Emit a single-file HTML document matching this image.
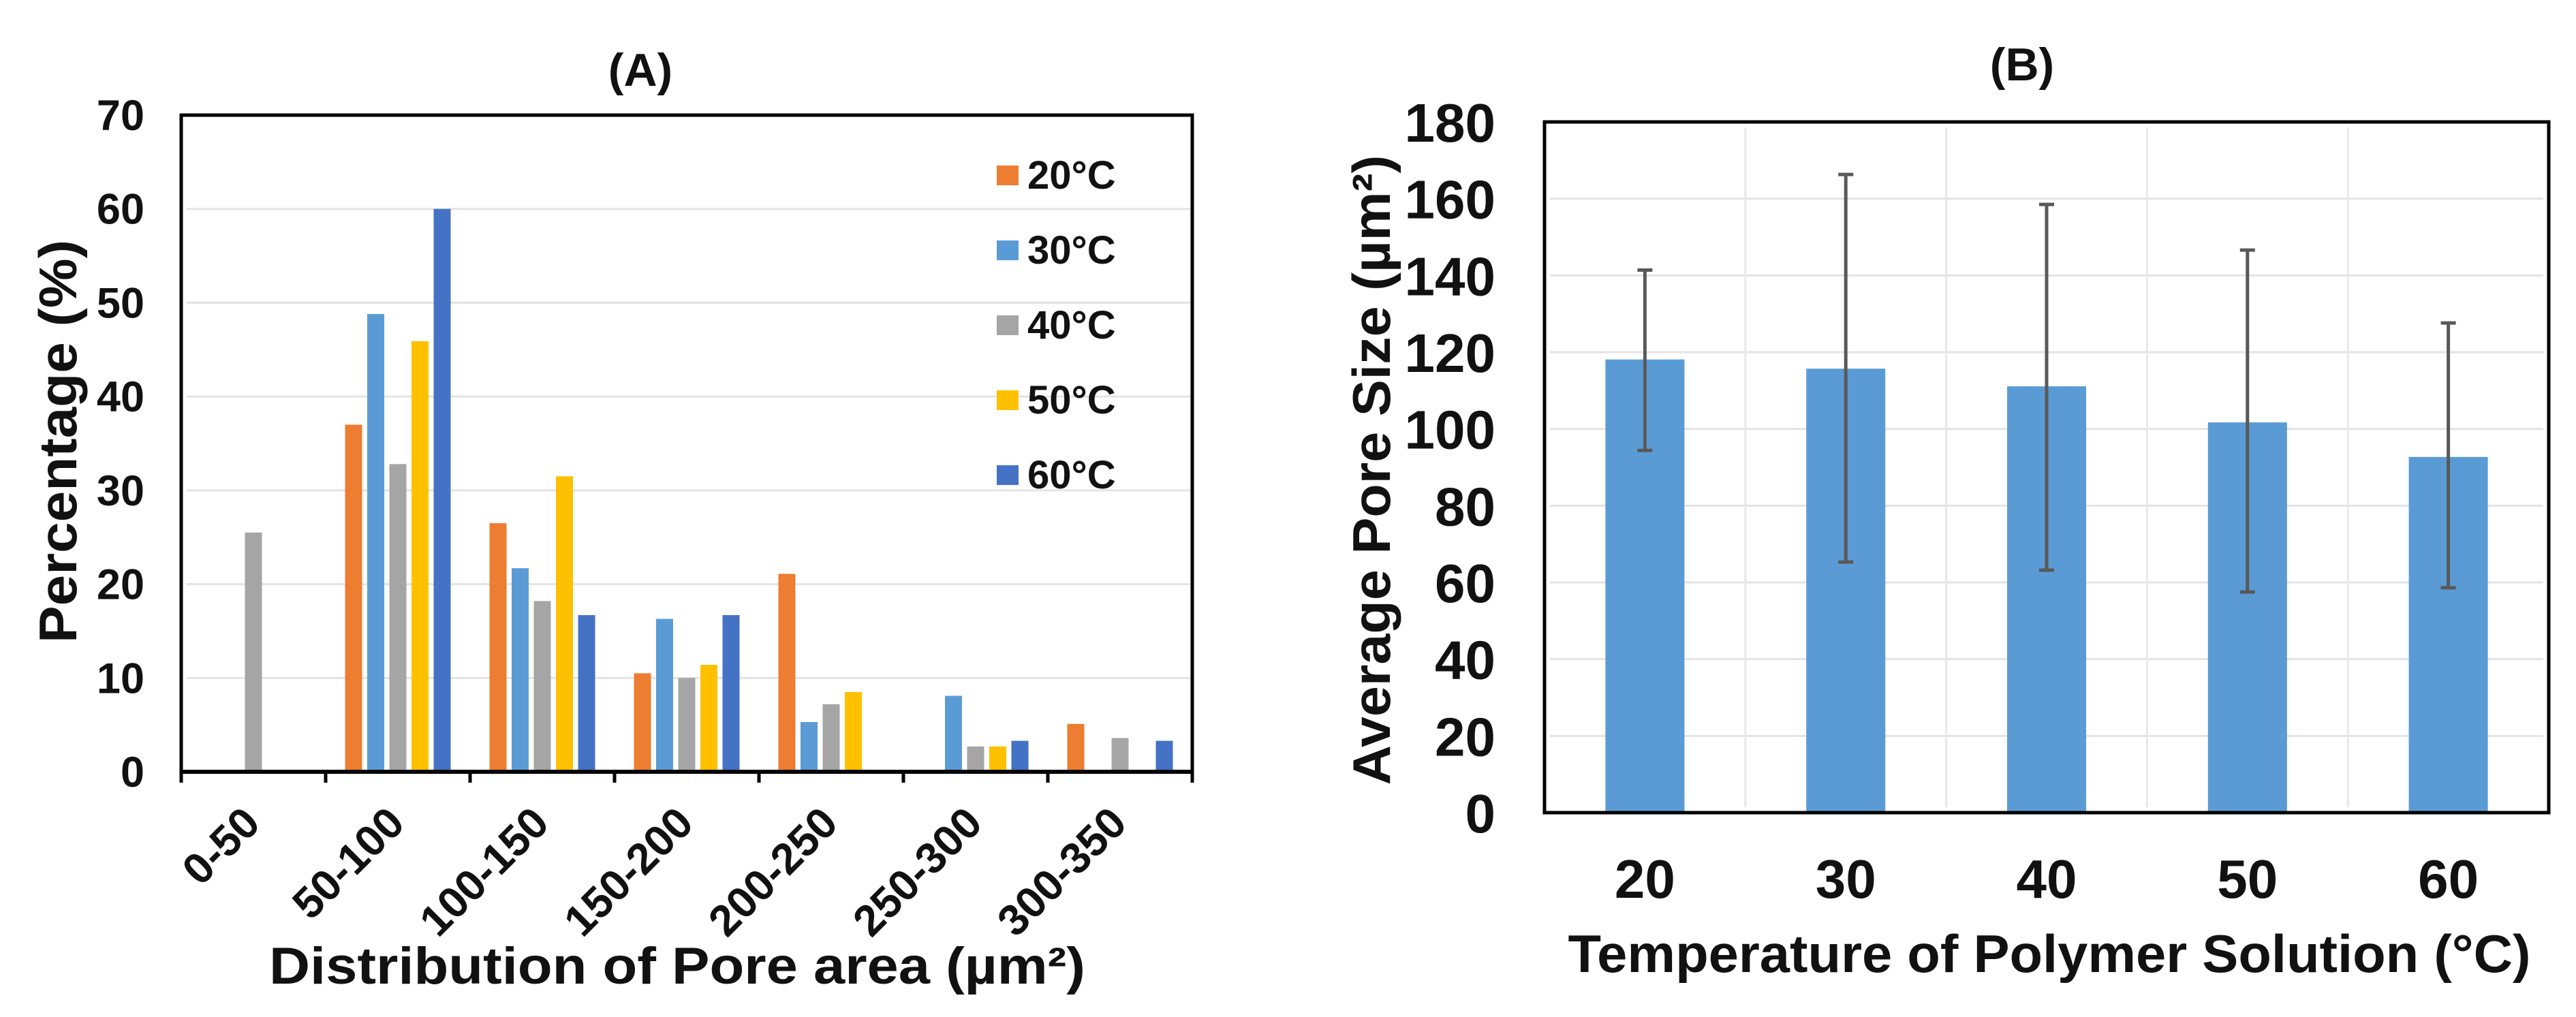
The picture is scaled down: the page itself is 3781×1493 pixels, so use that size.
<!DOCTYPE html>
<html><head><meta charset="utf-8"><style>
html,body{margin:0;padding:0;background:#fff;}
svg{display:block;font-family:"Liberation Sans",Arial,sans-serif;font-weight:bold;}
</style></head><body>
<svg id="fig" width="3781" height="1493" viewBox="0 0 3781 1493" xmlns="http://www.w3.org/2000/svg">
<g id="chartA"></g>
<g id="chartB"></g>
</svg>
<script>
// ---- Chart A data ----
const catsA = ["0-50","50-100","100-150","150-200","200-250","250-300","300-350"];
const seriesNamesA = ["20°C","30°C","40°C","50°C","60°C"];
const s20 = [0, 37, 26.5, 10.5, 21.1, 0, 5.1];
const s30 = [0, 48.8, 21.7, 16.3, 5.3, 8.1, 0];
const s40 = [25.5, 32.8, 18.2, 10, 7.2, 2.7, 3.6];
const s50 = [0, 45.9, 31.5, 11.4, 8.5, 2.7, 0];
const s60 = [0, 60, 16.7, 16.7, 0, 3.3, 3.3];
const ticksA = [0,10,20,30,40,50,60,70];
// ---- Chart B data ----
const catsB = ["20","30","40","50","60"];
const meansB = [118.1, 115.7, 111.1, 101.7, 92.7];
const upperB = [141.4, 166.3, 158.5, 146.6, 127.6];
const lowerB = [94.4, 65.3, 63.2, 57.5, 58.6];
const ticksB = [0,20,40,60,80,100,120,140,160,180];

const NS="http://www.w3.org/2000/svg";
function mk(parent,tag,attrs,text){const e=document.createElementNS(NS,tag);for(const k in attrs)e.setAttribute(k,attrs[k]);if(text!==undefined)e.textContent=text;parent.appendChild(e);return e;}

// ===== Chart A =====
(function(){
const g=document.getElementById('chartA');
const L=266,R=1750,T=169,B=1133,maxV=70;
const y=v=>B-(v/maxV)*(B-T);
const cw=(R-L)/catsA.length;
const x=i=>L+cw*(i+0.5);
const colors=["#ED7D31","#5B9BD5","#A5A5A5","#FFC000","#4472C4"];
const series=[s20,s30,s40,s50,s60];
ticksA.forEach(t=>{
  if(t>0&&t<maxV){const gl=mk(g,'line',{x1:L+8,x2:R,y1:y(t),y2:y(t),stroke:'#e3e3e3','stroke-width':3});
  
  }
  const tl=mk(g,'text',{x:212,y:y(t)+22,'text-anchor':'end','font-size':63,fill:'#111'},t);
  
  
});
series.forEach((s,si)=>{
  s.forEach((v,i)=>{
    if(v<=0)return;
    const bx=x(i)+(si-2)*32.5-12.5;
    const r=mk(g,'rect',{x:bx,y:y(v),width:25,height:B-y(v),fill:colors[si]});
    
    
  });
});
const box=mk(g,'path',{d:`M${L} ${B} L${L} ${T} L${R} ${T} L${R} ${B}`,fill:'none',stroke:'#000','stroke-width':5});


const xa=mk(g,'line',{x1:L,x2:R,y1:B,y2:B,stroke:'#000','stroke-width':6});


for(let i=0;i<=catsA.length;i++){
  const tk=mk(g,'line',{x1:L+cw*i,x2:L+cw*i,y1:B,y2:B+16,stroke:'#000','stroke-width':5});
  
  
}
catsA.forEach((c,i)=>{
  const px=x(i)+13,py=1212;
  const t=mk(g,'text',{x:px,y:py,'text-anchor':'end','font-size':64,fill:'#111',transform:`rotate(-45 ${px} ${py})`},c);
  
  
});
seriesNamesA.forEach((n,i)=>{
  const ly=257+i*110;
  const sq=mk(g,'rect',{x:1463,y:ly-14,width:32,height:29,fill:colors[i]});
  
  
  const lt=mk(g,'text',{x:1508,y:ly+20,'font-size':58,fill:'#111'},n);
  
  
});
const ti=mk(g,'text',{x:940,y:126,'text-anchor':'middle','font-size':68,fill:'#111'},'(A)');


const xt=mk(g,'text',{x:994,y:1444,'text-anchor':'middle','font-size':76,fill:'#111',textLength:1198,lengthAdjust:'spacingAndGlyphs'},'Distribution of Pore area (µm²)');


const yt=mk(g,'text',{x:0,y:0,'text-anchor':'middle','font-size':78,fill:'#111',textLength:592,lengthAdjust:'spacingAndGlyphs',transform:'translate(112 648) rotate(-90)'},'Percentage (%)');


})();

// ===== Chart B =====
(function(){
const g=document.getElementById('chartB');
const L=2267,R=3741,T=179,B=1193,maxV=180;
const y=v=>B-(v/maxV)*(B-T);
const cw=(R-L)/catsB.length;
const x=i=>L+cw*(i+0.5);
ticksB.forEach(t=>{
  if(t>0&&t<maxV){const gl=mk(g,'line',{x1:L+8,x2:R-8,y1:y(t),y2:y(t),stroke:'#e3e3e3','stroke-width':3});
  
  }
  const tl=mk(g,'text',{x:2195,y:y(t)+29,'text-anchor':'end','font-size':80,fill:'#111'},t);
  
  
});
for(let i=1;i<catsB.length;i++){
  const vg=mk(g,'line',{x1:L+cw*i,x2:L+cw*i,y1:T+8,y2:B-8,stroke:'#e8e8e8','stroke-width':3});
  
  
}
meansB.forEach((v,i)=>{
  const r=mk(g,'rect',{x:x(i)-58,y:y(v),width:116,height:B-y(v),fill:'#5B9BD5'});
  
  
  const eb=mk(g,'path',{d:`M${x(i)} ${y(lowerB[i])} L${x(i)} ${y(upperB[i])} M${x(i)-11} ${y(upperB[i])} L${x(i)+11} ${y(upperB[i])} M${x(i)-11} ${y(lowerB[i])} L${x(i)+11} ${y(lowerB[i])}`,stroke:'#595959','stroke-width':5,fill:'none'});
  
  
  const xl=mk(g,'text',{x:x(i),y:1318,'text-anchor':'middle','font-size':80,fill:'#111'},catsB[i]);
  
  
});
const box=mk(g,'rect',{x:L,y:T,width:R-L,height:B-T,fill:'none',stroke:'#000','stroke-width':5});


const ti=mk(g,'text',{x:2968,y:118,'text-anchor':'middle','font-size':68,fill:'#111'},'(B)');


const xt=mk(g,'text',{x:3008,y:1427,'text-anchor':'middle','font-size':78,fill:'#111',textLength:1413,lengthAdjust:'spacingAndGlyphs'},'Temperature of Polymer Solution (°C)');


const yt=mk(g,'text',{x:0,y:0,'text-anchor':'middle','font-size':78,fill:'#111',textLength:925,lengthAdjust:'spacingAndGlyphs',transform:'translate(2040 690) rotate(-90)'},'Average Pore Size (µm²)');


})();
</script>
</body></html>
